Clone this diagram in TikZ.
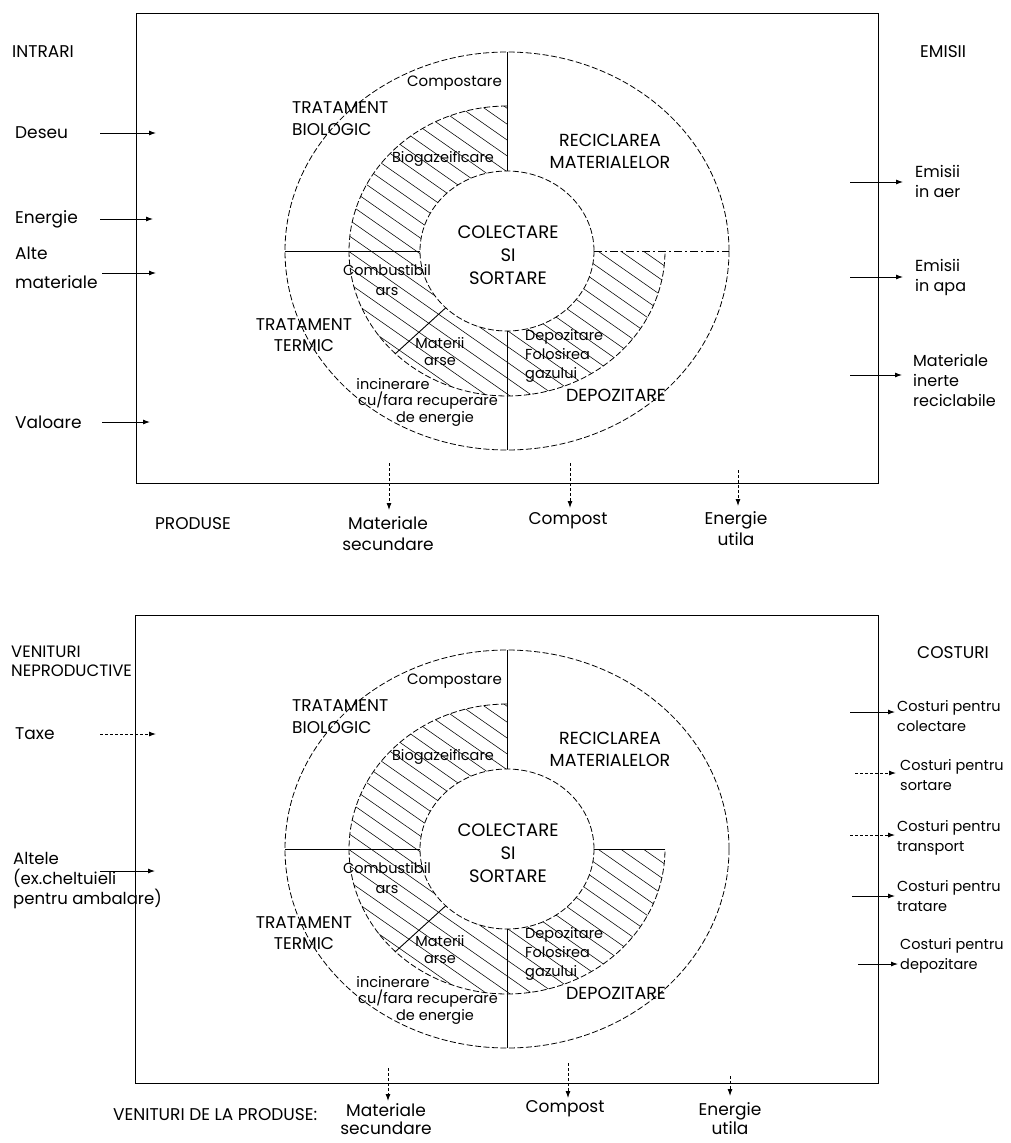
\documentclass[tikz,border=0pt]{standalone}
\usepackage{fontspec}
\setmainfont{Poppins}
\usetikzlibrary{arrows.meta}
\tikzset{
  every node/.style={inner sep=0pt},
  lbl/.style={font=\fontsize{17}{21}\selectfont, align=left},
  lblc/.style={font=\fontsize{17}{21}\selectfont, align=center},
  rlbl/.style={font=\fontsize{16}{20}\selectfont, align=left},
  clbl/.style={font=\fontsize{14.5}{20}\selectfont, align=left},
  inr/.style={font=\fontsize{14.5}{19}\selectfont, align=center},
  inrl/.style={font=\fontsize{14.5}{19}\selectfont, align=left},
  capt/.style={font=\fontsize{17.5}{22}\selectfont, align=center},
  captl/.style={font=\fontsize{17}{22}\selectfont, align=left},
  ring/.style={line width=0.8pt, dash pattern=on 6pt off 2.5pt},
  divider/.style={line width=0.9pt},
  hatch/.style={line width=0.55pt},
  arr/.style={line width=0.9pt, -{Latex[length=7pt,width=5pt]}},
  darr/.style={arr, dash pattern=on 3pt off 2pt},
  box/.style={line width=1pt},
}
\newcommand\wheelcore[1]{%
  \begin{scope}
    \clip plot[domain=90:360,samples=90] ({158*cos(\x)},{-145*sin(\x)}) -- plot[domain=360:90,samples=90] ({87*cos(\x)},{-80*sin(\x)}) -- cycle;
    \foreach \k in {-16,...,16}{
      \draw[hatch] ({-7.46*\k-246},{10.65*\k-172}) -- ({-7.46*\k+246},{10.65*\k+172});
    }
  \end{scope}
  \draw[ring] (0,0) ellipse [x radius=222, y radius=199];
  \draw[ring] plot[domain=90:360,samples=120] ({158*cos(\x)},{-145*sin(\x)});
  \draw[ring] (0,0) ellipse [x radius=87, y radius=80];
  \draw[divider] (0,-199) -- (0,-80);
  \draw[divider] (-222,0) -- (-87,0);
  \draw[divider] (0,80) -- (0,199);
  \draw[divider] (-112,103) -- (-61.5,57);
  \node[font=\fontsize{15}{19}\selectfont, anchor=east] (#1comp) at (-5,-168) {Compostare};
  \node[captl, anchor=west] (#1bio) at (-215,-132) {TRATAMENT\\BIOLOGIC};
  \node[inr] (#1biog) at (-64,-92) {Biogazeificare};
  \node[capt] (#1rec) at (103,-100) {RECICLAREA\\MATERIALELOR};
  \node[capt, font=\fontsize{18}{23}\selectfont] (#1col) at (1,4) {COLECTARE\\SI\\SORTARE};
  \node[inr, font=\fontsize{14.5}{20}\selectfont] (#1comb) at (-120,29) {Combustibil\\ars};
  \node[capt, font=\fontsize{17}{21}\selectfont] (#1term) at (-203,84) {TRATAMENT\\TERMIC};
  \node[inr, font=\fontsize{14.5}{17}\selectfont] (#1mat) at (-67,101) {Materii\\arse};
  \node[inrl, anchor=west] (#1dep) at (18,105) {Depozitare\\Folosirea\\gazului};
  \node[capt] (#1DEP) at (109,144) {DEPOZITARE};
  \node[inr] (#1inca) at (-114,133) {incinerare};
  \node[inr] (#1incb) at (-79,150) {cu/fara recuperare};
  \node[inr] (#1incc) at (-72,168) {de energie};
}
\begin{document}
\begin{tikzpicture}[x=1pt,y=-1pt]
\useasboundingbox (0,0) rectangle (1010,1143);
\fill[white] (0,0) rectangle (1010,1143);
% ================= TOP DIAGRAM =================
\draw[box] (136,13) rectangle (878,483);
\begin{scope}[shift={(507,251)}]
  \wheelcore{t}
  \draw[divider, dash pattern=on 8pt off 3pt on 2pt off 3pt] (87,0) -- (222,0);
\end{scope}
% inputs
\node[lbl, anchor=west] (intrari) at (12,52) {INTRARI};
\node[lbl, anchor=west] (deseu) at (15,133) {Deseu};
\node[lbl, anchor=west] (energie) at (15,219) {Energie};
\node[lbl, anchor=west, font=\fontsize{17}{29}\selectfont] (alte) at (15,268) {Alte\\materiale};
\node[lbl, anchor=west] (valoare) at (15,422) {Valoare};
\coordinate (deseuA) at (100,133); \coordinate (deseuB) at (156,133);
\coordinate (energA) at (100,219); \coordinate (energB) at (153,219);
\coordinate (alteA) at (102,273);  \coordinate (alteB) at (156,273);
\coordinate (valA) at (102,422);   \coordinate (valB) at (150,422);
\draw[arr] (deseuA) -- (deseuB);
\draw[arr] (energA) -- (energB);
\draw[arr] (alteA) -- (alteB);
\draw[arr] (valA) -- (valB);
% emissions
\node[lbl, anchor=west] (emisii) at (920,52) {EMISII};
\node[rlbl, anchor=west] (aer) at (915,181) {Emisii\\in aer};
\node[rlbl, anchor=west] (apa) at (915,277) {Emisii\\in apa};
\node[rlbl, anchor=west] (inerte) at (913,380) {Materiale\\inerte\\reciclabile};
\coordinate (aerA) at (850,182); \coordinate (aerB) at (903,182);
\coordinate (apaA) at (850,277); \coordinate (apaB) at (903,277);
\coordinate (inA) at (850,375);  \coordinate (inB) at (902,375);
\draw[arr] (aerA) -- (aerB);
\draw[arr] (apaA) -- (apaB);
\draw[arr] (inA) -- (inB);
% products
\node[lbl] (produse) at (193,524) {PRODUSE};
\node[lblc] (matsec) at (388,534) {Materiale\\secundare};
\node[lblc] (compost) at (568,521) {Compost};
\node[lblc] (enutil) at (736,529) {Energie\\utila};
\coordinate (msA) at (389,463); \coordinate (msB) at (389,510);
\coordinate (coA) at (570,463); \coordinate (coB) at (570,508);
\coordinate (enA) at (738,470); \coordinate (enB) at (738,506);
\draw[darr] (msA) -- (msB);
\draw[darr] (coA) -- (coB);
\draw[darr] (enA) -- (enB);
% ================= BOTTOM DIAGRAM =================
\draw[box] (135,615) rectangle (878,1083);
\begin{scope}[shift={(507,849)}]
  \wheelcore{b}
  \draw[divider] (87,0) -- (158,0);
\end{scope}
\node[lbl, anchor=west, font=\fontsize{16.5}{19}\selectfont] (venit) at (11,661) {VENITURI\\NEPRODUCTIVE};
\node[lbl, anchor=west] (taxe) at (15,734) {Taxe};
\node[lbl, anchor=west, font=\fontsize{16.5}{20}\selectfont] (altele) at (13,881) {Altele\\(ex.cheltuieli\\pentru ambalare)};
\coordinate (taxA) at (100,734); \coordinate (taxB) at (156,734);
\coordinate (altA) at (100,871); \coordinate (altB) at (155,871);
\draw[darr] (taxA) -- (taxB);
\draw[arr] (altA) -- (altB);
\node[lbl, anchor=west] (costuri) at (917,653) {COSTURI};
\node[clbl, anchor=west] (c1) at (897,716) {Costuri pentru\\colectare};
\node[clbl, anchor=west] (c2) at (900,775) {Costuri pentru\\sortare};
\node[clbl, anchor=west] (c3) at (897,838) {Costuri pentru\\transport};
\node[clbl, anchor=west] (c4) at (897,896) {Costuri pentru\\tratare};
\node[clbl, anchor=west] (c5) at (900,956) {Costuri pentru\\depozitare};
\coordinate (c1A) at (850,712); \coordinate (c1B) at (895,712);
\coordinate (c2A) at (855,773); \coordinate (c2B) at (896,773);
\coordinate (c3A) at (850,835); \coordinate (c3B) at (895,835);
\coordinate (c4A) at (852,896); \coordinate (c4B) at (895,896);
\coordinate (c5A) at (858,964); \coordinate (c5B) at (898,964);
\draw[arr] (c1A) -- (c1B);
\draw[darr] (c2A) -- (c2B);
\draw[darr] (c3A) -- (c3B);
\draw[arr] (c4A) -- (c4B);
\draw[arr] (c5A) -- (c5B);
\node[lbl, anchor=west] (vprod) at (113,1115) {VENITURI DE LA PRODUSE:};
\node[lblc, font=\fontsize{17}{18}\selectfont] (bmatsec) at (386,1119) {Materiale\\secundare};
\node[lblc] (bcompost) at (565,1109) {Compost};
\node[lblc, font=\fontsize{17}{19}\selectfont] (benutil) at (730,1119) {Energie\\utila};
\coordinate (bmsA) at (388,1068); \coordinate (bmsB) at (388,1101);
\coordinate (bcoA) at (568,1063); \coordinate (bcoB) at (568,1098);
\coordinate (benA) at (730,1076); \coordinate (benB) at (730,1096);
\draw[darr] (bmsA) -- (bmsB);
\draw[darr] (bcoA) -- (bcoB);
\draw[darr] (benA) -- (benB);
\end{tikzpicture}
\end{document}
